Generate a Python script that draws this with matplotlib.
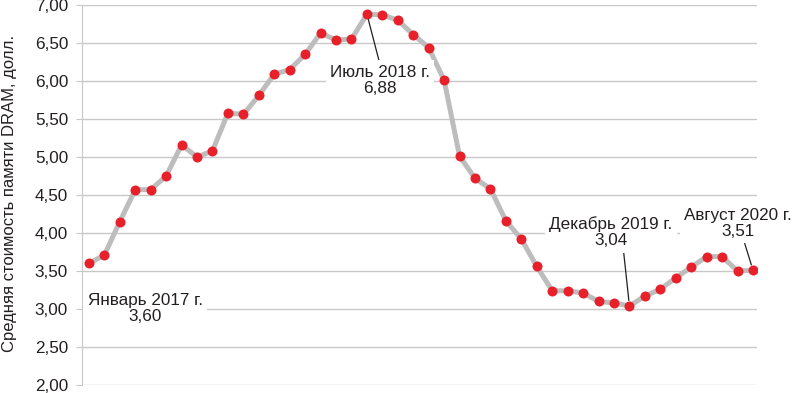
import numpy as np
import matplotlib
matplotlib.use("Agg")
import matplotlib.pyplot as plt
from matplotlib.ticker import FuncFormatter

plt.rcParams["font.family"] = ["Liberation Sans", "DejaVu Sans"]

# monthly average DRAM price, Jan 2017 .. Aug 2020
prices = [3.60, 3.71, 4.15, 4.57, 4.57, 4.75, 5.16, 5.00, 5.08, 5.58, 5.56, 5.81,
          6.09, 6.15, 6.35, 6.63, 6.54, 6.55, 6.88, 6.87, 6.80, 6.61, 6.44, 6.01,
          5.01, 4.72, 4.58, 4.16, 3.92, 3.56, 3.24, 3.24, 3.21, 3.10, 3.08, 3.04,
          3.17, 3.26, 3.41, 3.55, 3.69, 3.69, 3.50, 3.51]
y_ticks = [2.0, 2.5, 3.0, 3.5, 4.0, 4.5, 5.0, 5.5, 6.0, 6.5, 7.0]
ylabel = "Средняя стоимость памяти DRAM, долл."

# annotated months: (index, label)
notes = [(0, "Январь 2017 г."), (18, "Июль 2018 г."),
         (35, "Декабрь 2019 г."), (43, "Август 2020 г.")]

TXT = "#231f20"
GRID = "#c8c8c8"

fig = plt.figure(figsize=(8.0, 3.93), dpi=100)
ax = fig.add_axes([82 / 800, 1 - 385 / 393, 675 / 800, 380 / 393])

x = np.arange(len(prices))
ax.plot(x, prices, color="#bdbdbd", lw=3.6, solid_joinstyle="round", zorder=2)
ax.plot(x, prices, "o", color="#e8202a", markersize=7.2, markeredgewidth=0, zorder=3)

ax.set_ylim(2, 7)
ax.set_xlim(-0.45, 43.26)
ax.set_yticks(y_ticks)
ax.yaxis.set_major_formatter(FuncFormatter(lambda v, p: f"{v:.2f}".replace(".", ",")))
ax.set_xticks([])
ax.grid(axis="y", color=GRID, lw=1, zorder=0)
for s in ["top", "right", "bottom"]:
    ax.spines[s].set_visible(False)
ax.spines["left"].set_color(GRID)
ax.tick_params(axis="y", colors=GRID, length=4, pad=6, labelsize=12.3, labelcolor=TXT)

fig.text(10 / 800, 1 - 193 / 393, ylabel, rotation=90, ha="center", va="center",
         fontsize=12, color=TXT)

# text placement (data coords) and leader attach points
text_pos = {0: (3.63, 3.01), 18: (18.85, 6.01), 35: (33.8, 4.01), 43: (42.03, 4.125)}
relpos = {18: (0.5, 1.0), 35: (0.6, 0.0), 43: (0.55, 0.0)}
for i, label in notes:
    txt = label + "\n" + f"{prices[i]:.2f}".replace(".", ",")
    arrow = None
    if i in relpos:
        arrow = dict(arrowstyle="-", color=TXT, lw=0.9, shrinkA=0, shrinkB=4,
                     relpos=relpos[i])
    ax.annotate(txt, xy=(x[i], prices[i]), xytext=text_pos[i], textcoords="data",
                ha="center", va="center", multialignment="center", fontsize=12.3,
                color=TXT, linespacing=1.1, annotation_clip=False,
                bbox=dict(boxstyle="square,pad=0.25", fc="white", ec="none"),
                arrowprops=arrow, zorder=4)

fig.savefig("out.png", dpi=100)
